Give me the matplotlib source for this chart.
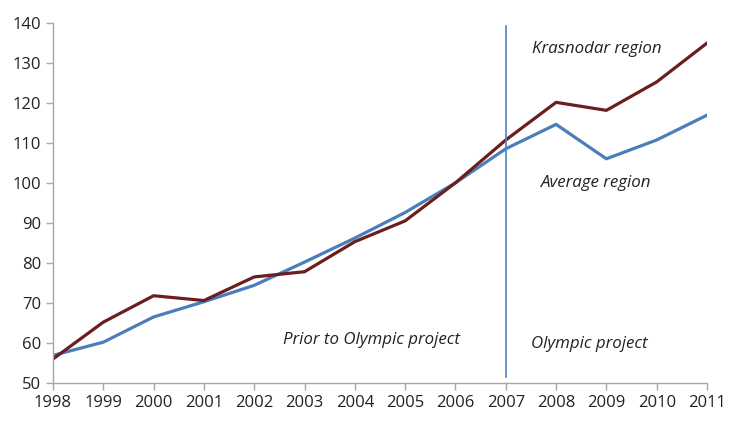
import matplotlib
matplotlib.use("Agg")
import matplotlib.pyplot as plt

years = list(range(1998, 2012))
krasnodar = [56.0, 65.2, 71.8, 70.6, 76.5, 77.8, 85.3, 90.5, 100.0, 110.7, 120.1, 118.1, 125.2, 134.9]
average = [56.9, 60.2, 66.5, 70.3, 74.4, 80.2, 86.2, 92.6, 100.0, 108.5, 114.6, 106.0, 110.7, 116.9]

olympic_start = 2007

plt.rcParams['font.family'] = ['Open Sans', 'DejaVu Sans']

fig = plt.figure(figsize=(7.36, 4.32), dpi=100)
ax = fig.add_axes([0.072, 0.1134, 0.8886, 0.8341])

ax.plot(years, average, color='#4A7EBB', lw=2.3, solid_joinstyle='round')
ax.plot(years, krasnodar, color='#6B1E1E', lw=2.3, solid_joinstyle='round')
ax.plot([olympic_start, olympic_start], [51.5, 139.2], color='#4F81BD', lw=1.2)

ax.set_xlim(1998, 2011)
ax.set_ylim(50, 140)
ax.set_xticks(years)
ax.set_yticks(range(50, 141, 10))
ax.tick_params(labelsize=12, length=5, width=1, colors='#222222')
ax.tick_params(axis='both', color='#A6A6A6')

for s in ['top', 'right']:
    ax.spines[s].set_visible(False)
for s in ['left', 'bottom']:
    ax.spines[s].set_color('#A6A6A6')
    ax.spines[s].set_linewidth(1)

tkw = dict(fontsize=12.2, style='italic', color='#222222', ha='center', va='center')
ax.text(2008.8, 133.4, 'Krasnodar region', **tkw)
ax.text(2008.8, 99.9, 'Average region', **tkw)
ax.text(2008.66, 59.7, 'Olympic project', **tkw)
ax.text(2004.33, 60.8, 'Prior to Olympic project', **tkw)

fig.savefig('out.png', dpi=100)
